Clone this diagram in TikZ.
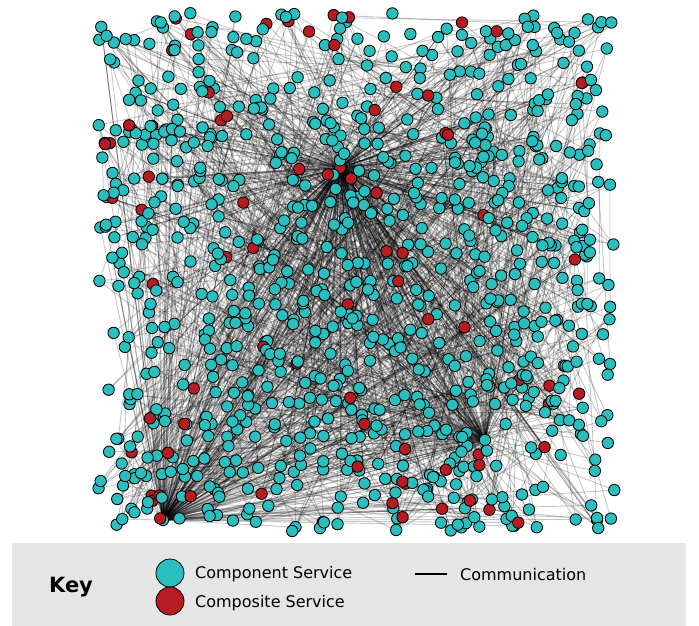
\documentclass[tikz,border=0pt]{standalone}
\usepackage{fontspec}
\setmainfont{DejaVu Sans}
\definecolor{compteal}{RGB}{43,190,190}
\definecolor{compred}{RGB}{182,28,34}
\definecolor{keybg}{RGB}{229,229,229}
\pgfdeclarelayer{links}
\pgfsetlayers{links,main}
\begin{document}
\begin{tikzpicture}[x=1pt,y=-1pt,
  service/.style={circle,draw=black,line width=0.85pt,inner sep=0pt,minimum size=11.4pt},
  component/.style={service,fill=compteal},
  composite/.style={service,fill=compred},
  link/.style={draw=black,draw opacity=0.22,line width=0.9pt},
  keyservice/.style={circle,draw=black,line width=0.8pt,inner sep=0pt,minimum size=28pt},
  keytext/.style={anchor=west,inner sep=0pt,font=\fontsize{16}{16}\selectfont},
]
\useasboundingbox (0,0) rectangle (699,626);
\pgfmathsetseed{4711}

% the three busiest services
\node[composite] (n1) at (340,168) {};
\node[component] (n2) at (485,440) {};
\node[component] (n3) at (163,520) {};

% the remaining services, scattered over the square
\foreach \i in {4,...,930}{
  \pgfmathsetmacro\px{97+518*rnd}
  \pgfmathsetmacro\py{13+518*rnd}
  \pgfmathtruncatemacro\kind{rnd<0.1 ? 1 : 0}
  \ifnum\kind=1
    \node[composite] (n\i) at (\px,\py) {};
  \else
    \node[component] (n\i) at (\px,\py) {};
  \fi
}

\begin{pgfonlayer}{links}
  % communication with the busiest services
  \foreach \k in {1,...,380}{
    \pgfmathtruncatemacro\j{4+int(926*rnd)}
    \draw[link] (n1) -- (n\j);
  }
  \foreach \k in {1,...,170}{
    \pgfmathtruncatemacro\j{4+int(926*rnd)}
    \draw[link] (n2) -- (n\j);
  }
  \foreach \k in {1,...,220}{
    \pgfmathtruncatemacro\j{4+int(926*rnd)}
    \draw[link] (n3) -- (n\j);
  }
  % communication between other services
  \foreach \k in {1,...,1000}{
    \pgfmathtruncatemacro\a{4+int(926*rnd)}
    \pgfmathtruncatemacro\b{4+int(926*rnd)}
    \ifnum\a=\b\else
      \draw[link] (n\a) -- (n\b);
    \fi
  }
\end{pgfonlayer}

% key
\fill[keybg] (12,543) rectangle (686,626);
\node[inner sep=0pt,font=\fontsize{21}{21}\selectfont\bfseries] (keytitle) at (71,587) {Key};
\node[keyservice,fill=compteal] (keycomp) at (170,573) {};
\node[keyservice,fill=compred] (keycompo) at (170,601) {};
\node[keytext] (keycomptext) at (195,574) {Component Service};
\node[keytext] (keycompotext) at (195,603) {Composite Service};
\coordinate (keylinea) at (415,574);
\coordinate (keylineb) at (447,574);
\draw[line width=1.6pt] (keylinea) -- (keylineb);
\node[keytext] (keylinktext) at (460,575) {Communication};
\end{tikzpicture}
\end{document}
